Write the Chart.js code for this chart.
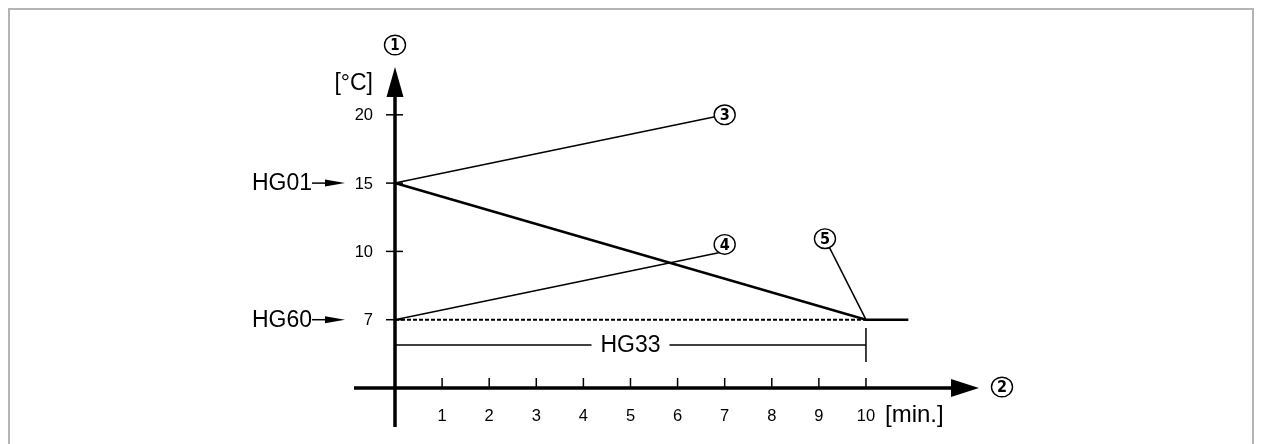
<!DOCTYPE html>
<html>
<head>
<meta charset="utf-8">
<script src="https://cdn.jsdelivr.net/npm/chart.js@4.4.1/dist/chart.umd.min.js"></script>
<style>
html, body { margin: 0; padding: 0; background: #fff; }
#wrap { width: 1262px; height: 444px; position: relative; }
</style>
</head>
<body>
<div id="wrap"><canvas id="hg-chart"></canvas></div>
<script>
const hgCanvas = document.getElementById('hg-chart');

// x: minutes, y: temperature steps (drawn evenly spaced, not to scale)
const minuteTicks = [1, 2, 3, 4, 5, 6, 7, 8, 9, 10];
const tempTicks = [7, 10, 15, 20];

const riseX = [0, 7];          // (3)
const riseY = [15, 20];
const lowX = [0, 7];           // (4)
const lowY = [7, 10];
const rampX = [0, 10, 10.9];   // main curve
const rampY = [15, 7, 7];
const dashX = [0, 10];         // HG60 reference
const dashY = [7, 7];

const FONT = '"Liberation Sans", Arial, sans-serif';

// temperature -> evenly spaced axis step
function level(t) {
    for (let i = 0; i < tempTicks.length - 1; i++) {
        const a = tempTicks[i], b = tempTicks[i + 1];
        if (t >= a && t <= b) return i + 1 + (t - a) / (b - a);
    }
    return t < tempTicks[0] ? t / tempTicks[0] : tempTicks.length;
}

function pts(xs, ys) {
    return xs.map((x, i) => ({ x: x, y: level(ys[i]) }));
}

function circled(ctx, cx, cy, txt, bold) {
    ctx.save();
    ctx.beginPath();
    ctx.ellipse(cx, cy, 10.5, 9.8, 0, 0, Math.PI * 2);
    ctx.fillStyle = '#fff';
    ctx.fill();
    ctx.lineWidth = 1.4;
    ctx.strokeStyle = '#000';
    ctx.stroke();
    ctx.fillStyle = '#000';
    ctx.font = (bold ? 'bold 16px ' : 'bold 15px ') + '"DejaVu Sans Condensed", "Liberation Sans Narrow", sans-serif';
    ctx.textAlign = 'center';
    ctx.textBaseline = 'middle';
    ctx.fillText(txt, cx, cy + 1);
    ctx.restore();
}

function line(ctx, x1, y1, x2, y2, w) {
    ctx.lineWidth = w;
    ctx.beginPath();
    ctx.moveTo(x1, y1);
    ctx.lineTo(x2, y2);
    ctx.stroke();
}

function tri(ctx, a, b, c) {
    ctx.beginPath();
    ctx.moveTo(a[0], a[1]);
    ctx.lineTo(b[0], b[1]);
    ctx.lineTo(c[0], c[1]);
    ctx.closePath();
    ctx.fill();
}

const sketch = {
    id: 'sketch',
    beforeDraw(chart) {
        const ctx = chart.ctx;
        ctx.save();
        ctx.fillStyle = '#fff';
        ctx.fillRect(0, 0, chart.width, chart.height);
        ctx.strokeStyle = '#b4b4b4';
        ctx.lineWidth = 2;
        ctx.strokeRect(9, 9, chart.width - 18, chart.height + 20);
        ctx.restore();
    },
    afterDatasetsDraw(chart) {
        const ctx = chart.ctx;
        const xs = chart.scales.x, ys = chart.scales.y;
        const x0 = xs.getPixelForValue(0), y0 = ys.getPixelForValue(0);
        const xEnd = xs.getPixelForValue(xs.max), yTop = ys.getPixelForValue(ys.max);

        ctx.save();
        ctx.strokeStyle = '#000';
        ctx.fillStyle = '#000';
        ctx.lineCap = 'butt';

        // axes
        line(ctx, x0, y0 + 39, x0, yTop + 28, 3.5);
        tri(ctx, [x0, yTop], [x0 - 8.5, yTop + 30], [x0 + 8.5, yTop + 30]);
        line(ctx, x0 - 41, y0, xEnd - 26, y0, 3.5);
        tri(ctx, [xEnd, y0], [xEnd - 28, y0 - 9], [xEnd - 28, y0 + 9]);

        // y ticks
        ctx.font = '16.5px ' + FONT;
        ctx.textAlign = 'right';
        ctx.textBaseline = 'middle';
        tempTicks.forEach(t => {
            const py = ys.getPixelForValue(level(t));
            line(ctx, x0 - 9, py, x0 + 8, py, 1.5);
            ctx.fillText(String(t), x0 - 22, py + 1);
        });

        // x ticks
        ctx.textAlign = 'center';
        minuteTicks.forEach(m => {
            const px = xs.getPixelForValue(m);
            line(ctx, px, y0 - 10, px, y0, 1.5);
            ctx.fillText(String(m), px, y0 + 28);
        });
        const p10 = xs.getPixelForValue(10);
        ctx.font = '24px ' + FONT;
        ctx.textAlign = 'left';
        ctx.fillText('[min.]', p10 + 19, y0 + 27);

        // unit label
        ctx.textAlign = 'right';
        ctx.font = '23px ' + FONT;
        ctx.fillText('[°C]', x0 - 22, yTop + 17);

        // HG01 / HG60 markers
        [['HG01', 15], ['HG60', 7]].forEach(([lbl, t]) => {
            const py = ys.getPixelForValue(level(t));
            ctx.textAlign = 'right';
            ctx.font = '23px ' + FONT;
            ctx.fillText(lbl, x0 - 83, py + 1);
            line(ctx, x0 - 83, py, x0 - 66, py, 1.5);
            tri(ctx, [x0 - 50, py], [x0 - 70, py - 3.5], [x0 - 70, py + 3.5]);
        });

        // HG33 dimension line
        const hy = y0 - 43;
        const pMid = xs.getPixelForValue(5);
        line(ctx, x0, hy, pMid - 39, hy, 1.5);
        line(ctx, pMid + 39, hy, p10, hy, 1.5);
        line(ctx, p10, y0 - 60, p10, y0 - 26, 1.5);
        ctx.textAlign = 'center';
        ctx.font = '23px ' + FONT;
        ctx.fillText('HG33', pMid, hy + 1);

        // leader for (5)
        const py7 = ys.getPixelForValue(level(7));
        const c5x = p10 - 41, c5y = py7 - 81;
        const d = Math.hypot(41, 81);
        line(ctx, c5x + 10 * 41 / d, c5y + 10 * 81 / d, p10, py7, 1.5);

        // circled callouts
        const p7 = xs.getPixelForValue(7);
        circled(ctx, x0, yTop - 22, '1', false);
        circled(ctx, xEnd + 23, y0 - 1, '2', true);
        circled(ctx, p7, ys.getPixelForValue(level(20)), '3', true);
        circled(ctx, p7, ys.getPixelForValue(level(10)) - 7, '4', true);
        circled(ctx, c5x, c5y, '5', true);

        ctx.restore();
    }
};

let hgChart = new Chart(hgCanvas, {
    type: 'line',
    data: {
        datasets: [
            { data: pts(riseX, riseY), borderWidth: 1.5 },
            { data: pts(lowX, lowY), borderWidth: 1.5 },
            { data: pts(dashX, dashY), borderWidth: 2, borderDash: [4, 2] },
            { data: pts(rampX, rampY), borderWidth: 2.6 }
        ].map(ds => Object.assign({
            borderColor: '#000',
            pointRadius: 0,
            tension: 0,
            fill: false,
            clip: false
        }, ds))
    },
    options: {
        responsive: true,
        maintainAspectRatio: false,
        animation: false,
        events: [],
        layout: { padding: { left: 395, right: 283, top: 67, bottom: 56 } },
        scales: {
            x: { type: 'linear', min: 0, max: 12.4, display: false },
            y: { type: 'linear', min: 0, max: 4.7, display: false }
        },
        plugins: {
            legend: { display: false },
            tooltip: { enabled: false }
        }
    },
    plugins: [sketch]
});
</script>
</body>
</html>
